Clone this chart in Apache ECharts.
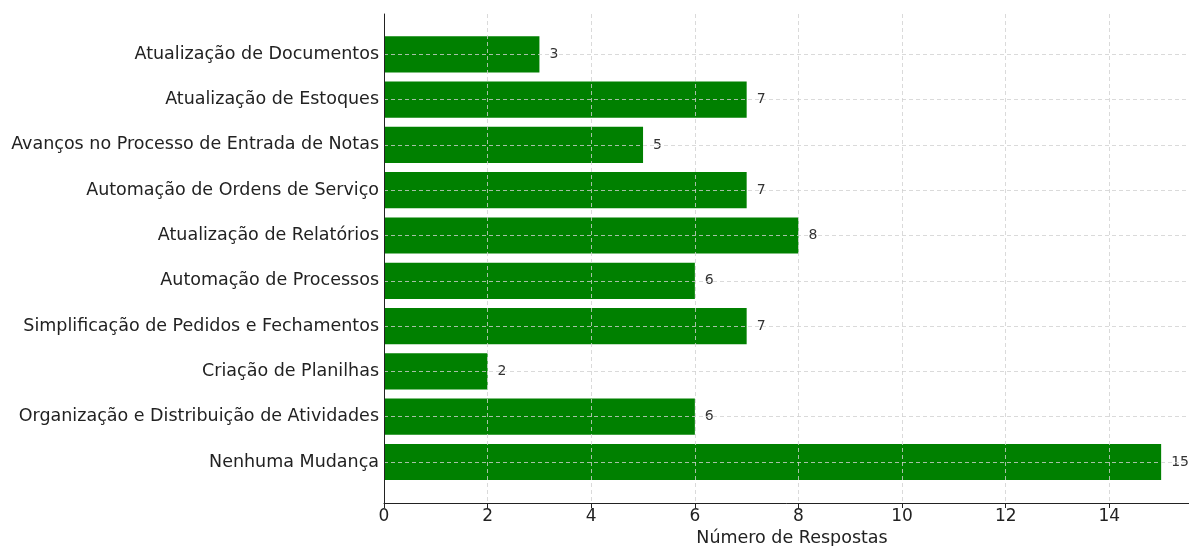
<!DOCTYPE html>
<html><head><meta charset="utf-8">
<script src="https://cdn.jsdelivr.net/npm/echarts@6/dist/echarts.min.js"></script>
<style>html,body{margin:0;padding:0;background:#fff}#c{width:1189px;height:546px}</style>
</head><body><div id="c"></div>
<script>
const categories = [
  "Atualização de Documentos",
  "Atualização de Estoques",
  "Avanços no Processo de Entrada de Notas",
  "Automação de Ordens de Serviço",
  "Atualização de Relatórios",
  "Automação de Processos",
  "Simplificação de Pedidos e Fechamentos",
  "Criação de Planilhas",
  "Organização e Distribuição de Atividades",
  "Nenhuma Mudança"
];
const values = [3, 7, 5, 7, 8, 6, 7, 2, 6, 15];
const xTicks = [0, 2, 4, 6, 8, 10, 12, 14];
const xName = "Número de Respostas";

const FONT = "DejaVu Sans";
const gridDash = { color: "#d0d0d0", width: 0.8, type: [4, 3] };
const chart = echarts.init(document.getElementById("c"));
chart.setOption({
  animation: false,
  textStyle: { fontFamily: FONT },
  grid: [
    { left: 384, width: 816, top: 54.3, height: 407.7, containLabel: false, outerBoundsMode: "none" },
    { left: 384, width: 816, top: 14, height: 489, containLabel: false, outerBoundsMode: "none" }
  ],
  xAxis: [
    { gridIndex: 0, type: "value", min: 0, max: 15.75, show: false },
    {
      gridIndex: 1, type: "value", min: 0, max: 15.75, interval: 2, z: 10,
      axisLine: { show: true, lineStyle: { color: "#222", width: 1 } },
      axisTick: { show: true, length: 5, lineStyle: { color: "#222" } },
      axisLabel: {
        fontSize: 17, color: "#222", margin: 5, fontFamily: FONT,
        formatter: v => xTicks.includes(v) ? String(v) : ""
      },
      splitLine: { show: true, lineStyle: gridDash },
      name: xName, nameLocation: "middle", nameGap: 25,
      nameTextStyle: { fontSize: 17.5, color: "#222", fontFamily: FONT }
    }
  ],
  yAxis: [
    {
      gridIndex: 0, type: "category", data: categories, inverse: true, boundaryGap: false, z: 10,
      axisLine: { show: false },
      axisTick: { show: false },
      axisLabel: { fontSize: 17.5, color: "#222", margin: 5, fontFamily: FONT },
      splitLine: { show: true, lineStyle: gridDash }
    },
    {
      gridIndex: 1, type: "value", min: 0, max: 1, z: 10,
      axisLine: { show: true, lineStyle: { color: "#222", width: 1 } },
      axisTick: { show: false }, axisLabel: { show: false }, splitLine: { show: false }
    }
  ],
  series: [{
    type: "bar", xAxisIndex: 0, yAxisIndex: 0, data: values, barWidth: "80%", z: 2,
    itemStyle: { color: "#008000" },
    label: { show: true, position: "right", distance: 10, fontSize: 14, color: "#333", fontFamily: FONT }
  }]
});
</script></body></html>
